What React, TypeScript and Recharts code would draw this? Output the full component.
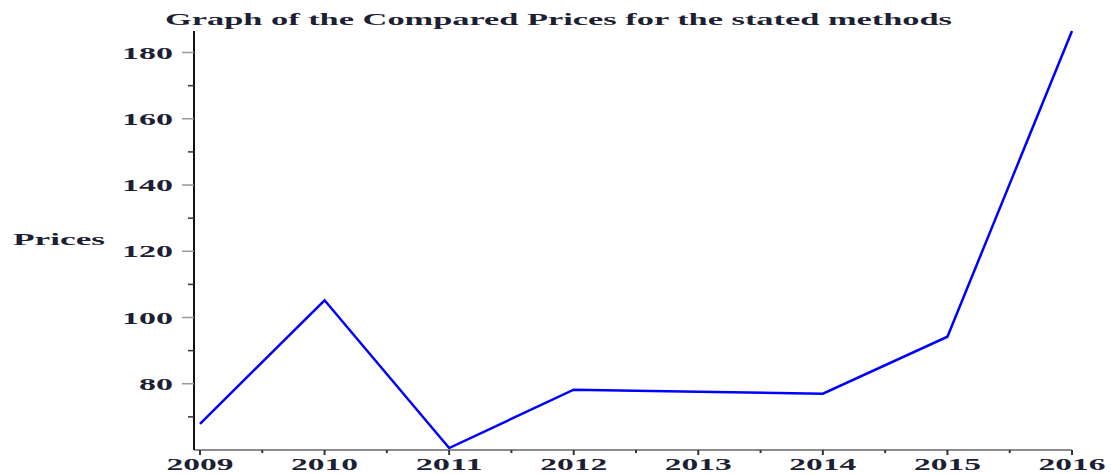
import { Line, LineChart, XAxis, YAxis } from "recharts";

const years = [2009, 2010, 2011, 2012, 2013, 2014, 2015, 2016];
const prices = [67.9, 105.2, 60.6, 78.2, 77.6, 77.0, 94.2, 186.5];
const yTicks = [70, 80, 90, 100, 110, 120, 130, 140, 150, 160, 170, 180];
const title = "Graph of the Compared Prices for the stated methods";
const yLabel = "Prices";

const data = years.map((year, i) => ({ year, price: prices[i] }));
const xTicks = years.flatMap((y, i) => (i < years.length - 1 ? [y, y + 0.5] : [y]));

const FONT = "'Liberation Serif', 'Times New Roman', serif";
const TEXT = "#1d1f33";

function YTick({ x, y, payload }: any) {
  const v = payload.value;
  const major = v % 20 === 0;
  const label = String(v);
  return (
    <g>
      {major ? (
        <>
          <line x1={x - 12} x2={x} y1={y} y2={y} stroke="#999" strokeWidth={1.5} />
          <text
            x={x - 21}
            y={y + 6}
            textAnchor="end"
            fontFamily={FONT}
            fontWeight="bold"
            fontSize={17}
            fill={TEXT}
            textLength={label.length * 17}
            lengthAdjust="spacingAndGlyphs"
          >
            {label}
          </text>
        </>
      ) : (
        <line x1={x - 6} x2={x} y1={y} y2={y} stroke="#333" strokeWidth={1.5} />
      )}
    </g>
  );
}

function XTick({ x, y, payload }: any) {
  const v = payload.value;
  const major = Number.isInteger(v);
  return (
    <g>
      {major ? (
        <>
          <line x1={x} x2={x} y1={y} y2={y + 5} stroke="#333" strokeWidth={2} />
          <text
            x={x}
            y={y + 20}
            textAnchor="middle"
            fontFamily={FONT}
            fontWeight="bold"
            fontSize={16}
            fill={TEXT}
            textLength={String(v).length * 16.75}
            lengthAdjust="spacingAndGlyphs"
          >
            {v}
          </text>
        </>
      ) : (
        <line x1={x} x2={x} y1={y} y2={y + 3} stroke="#333" strokeWidth={2} />
      )}
    </g>
  );
}

export default function App() {
  return (
    <div
      style={{
        position: "absolute",
        left: 0,
        top: 0,
        width: 1111,
        height: 474,
        background: "#fff",
      }}
    >
      <svg
        width={1111}
        height={40}
        style={{ position: "absolute", left: 0, top: 0 }}
      >
        <text
          x={165}
          y={25}
          fontFamily={FONT}
          fontWeight="bold"
          fontSize={16}
          fill={TEXT}
          textLength={787}
          lengthAdjust="spacingAndGlyphs"
        >
          {title}
        </text>
      </svg>
      <LineChart
        width={1111}
        height={474}
        data={data}
        margin={{ top: 31, right: 39, left: 0, bottom: 0 }}
      >
        <XAxis
          type="number"
          dataKey="year"
          domain={[2009, 2016]}
          ticks={xTicks}
          interval={0}
          padding={{ left: 6, right: 0 }}
          height={24}
          tickSize={0}
          tickMargin={0}
          tickLine={false}
          axisLine={{ stroke: "#666", strokeWidth: 1.5 }}
          tick={<XTick />}
        />
        <YAxis
          type="number"
          domain={[60, "dataMax"]}
          ticks={yTicks}
          interval={0}
          width={194}
          tickSize={0}
          tickMargin={0}
          tickLine={false}
          axisLine={{ stroke: "#111", strokeWidth: 2 }}
          tick={<YTick />}
          label={{
            content: () => (
              <text
                x={13}
                y={245}
                fontFamily={FONT}
                fontWeight="bold"
                fontSize={16}
                fill={TEXT}
                textLength={92}
                lengthAdjust="spacingAndGlyphs"
              >
                {yLabel}
              </text>
            ),
          }}
        />
        <Line
          type="linear"
          dataKey="price"
          stroke="#0000ff"
          strokeWidth={2.5}
          dot={false}
          isAnimationActive={false}
        />
      </LineChart>
    </div>
  );
}
